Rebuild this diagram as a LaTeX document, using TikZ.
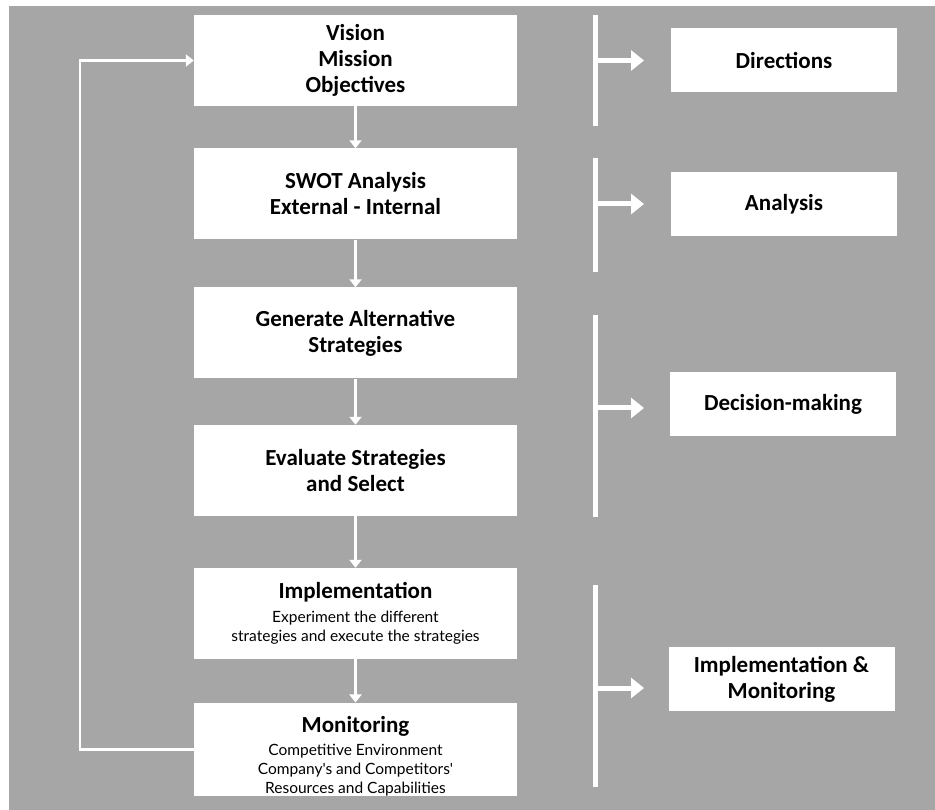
\documentclass[tikz,border=0pt]{standalone}
\usepackage{fontspec}
\setmainfont{Carlito}
\newfontfamily\notefont{Lato}
\usetikzlibrary{arrows.meta,positioning}
\definecolor{panelgray}{RGB}{166,166,166}
\newcommand{\titlefont}{\normalfont\fontsize{23}{26}\selectfont\bfseries}
\newcommand{\notetext}{\fontsize{15.5}{19}\selectfont\notefont\mdseries}

\begin{document}
\begin{tikzpicture}[x=1pt,y=-1pt,
    stepbox/.style={fill=white, minimum width=323pt, minimum height=91pt, inner sep=0pt, align=center, font=\titlefont},
    notebox/.style={stepbox, font=\notetext},
    phasebox/.style={fill=white, minimum width=226pt, minimum height=64pt, inner sep=0pt, align=center, font=\titlefont},
    flow/.style={draw=white, line width=2.2pt, -{Triangle[width=12pt,length=8pt]}},
    bar/.style={draw=white, line width=5pt},
    pointer/.style={draw=white, line width=5pt, -{Triangle[width=20pt,length=13pt]}}]
    \useasboundingbox (0,0) rectangle (935,810);
    \fill[panelgray] (9,6) rectangle (935,810);

    % process column
    \node[stepbox] (vis)  at (355.5,60.5)  {Vision\\Mission\\Objectives};
    \node[stepbox] (swot) at (355.5,194)   {SWOT Analysis\\External - Internal};
    \node[stepbox] (gen)  at (355.5,333)   {Generate Alternative\\Strategies};
    \node[stepbox] (eval) at (355.5,470.5) {Evaluate Strategies\\and Select};
    \node[notebox] (impl) at (355.5,613.5) {{\titlefont Implementation}\\[5pt]Experiment the different\\strategies and execute the strategies};
    \node[notebox] (mon)  at (355.5,749.5) {\rule{0pt}{30pt}{\titlefont Monitoring}\\[4pt]Competitive Environment\\Company's and Competitors'\\Resources and Capabilities};

    \foreach \a/\b in {vis/swot, swot/gen, gen/eval, eval/impl, impl/mon}
        \draw[flow] (\a) -- (\b);

    % feedback loop
    \coordinate (loop) at (80,749.5);
    \draw[flow, line width=2.6pt] (mon.west) -- (loop) |- (vis.west);

    % phases
    \node[phasebox] (dir) at (784,60.5) {Directions};
    \node[phasebox] (ana) at (784,204)  {Analysis};
    \node[phasebox] (dec) at (783,404)  {Decision-making};
    \node[phasebox] (imo) at (781.5,679) {Implementation \&\\Monitoring};

    \draw[bar] (595,15) -- (595,126);
    \draw[bar] (595,158) -- (595,272);
    \draw[bar] (595,315) -- (595,517);
    \draw[bar] (595,585) -- (595,787);

    \foreach \y/\n in {60.5/dir, 204/ana, 408/dec, 688/imo} {
        \coordinate (\n-from) at (595,\y);
        \coordinate (\n-to) at (644,\y);
        \draw[pointer] (\n-from) -- (\n-to);
    }
\end{tikzpicture}
\end{document}
